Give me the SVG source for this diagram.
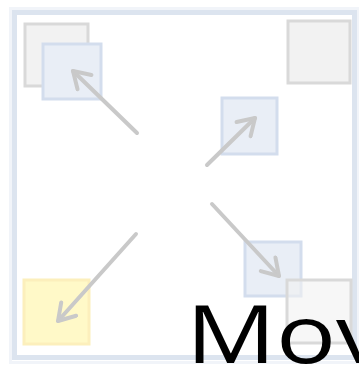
<svg xmlns="http://www.w3.org/2000/svg" width="359" height="365" viewBox="0 0 359 365">
<style>
.gray{fill:#f2f2f2;stroke:#d9d9d9;stroke-width:3}
.blue{fill:#e9eef6;stroke:#d3dded;stroke-width:3}
.yel{fill:#fff9c8;stroke:#fcefbc;stroke-width:3}
.conn{stroke:#c9c9c9;stroke-width:4;fill:none;stroke-linecap:round}
.lbl{font-family:"Open Sans","Noto Sans",sans-serif;font-size:80px;fill:#000}
</style>
<defs>
<marker id="ah" viewBox="-20 -12 24 24" markerWidth="24" markerHeight="24" refX="0" refY="0" orient="auto" markerUnits="userSpaceOnUse">
<path d="M-16,-10 L0,0 L-16,10" fill="none" stroke="#c9c9c9" stroke-width="4" stroke-linecap="round" stroke-linejoin="round"/>
</marker>
</defs>
<rect x="0" y="0" width="359" height="365" fill="#fff"/>
<rect x="10.5" y="8.5" width="348" height="354" fill="none" stroke="#f1f4f9" stroke-width="3"/>
<rect x="14.5" y="12.5" width="340" height="345" fill="none" stroke="#dce4ef" stroke-width="5"/>
<g id="node-tl-gray"><rect class="gray" x="25" y="24" width="63" height="62"/></g>
<g id="node-tl-blue"><rect class="blue" x="43" y="44" width="58" height="55"/></g>
<g id="node-tr-gray"><rect class="gray" x="288" y="21" width="62" height="62"/></g>
<g id="node-mid-blue"><rect class="blue" x="222" y="98" width="55" height="56"/></g>
<g id="node-bl-yellow"><rect class="yel" x="24" y="280" width="65" height="64"/></g>
<g id="node-br-blue"><rect class="blue" x="245" y="242" width="56" height="54"/></g>
<g id="node-br-gray"><rect class="gray" x="287" y="280" width="64" height="63" fill-opacity="0.6"/></g>
<g id="connectors">
<line class="conn" x1="137" y1="133" x2="73" y2="71" marker-end="url(#ah)"/>
<line class="conn" x1="207" y1="165" x2="255" y2="118" marker-end="url(#ah)"/>
<line class="conn" x1="136" y1="234" x2="58" y2="321" marker-end="url(#ah)"/>
<line class="conn" x1="212" y1="204" x2="279" y2="276" marker-end="url(#ah)"/>
</g>
<text class="lbl" transform="translate(186,363) scale(1.25,1)" x="0" y="0">Mov</text>
</svg>
